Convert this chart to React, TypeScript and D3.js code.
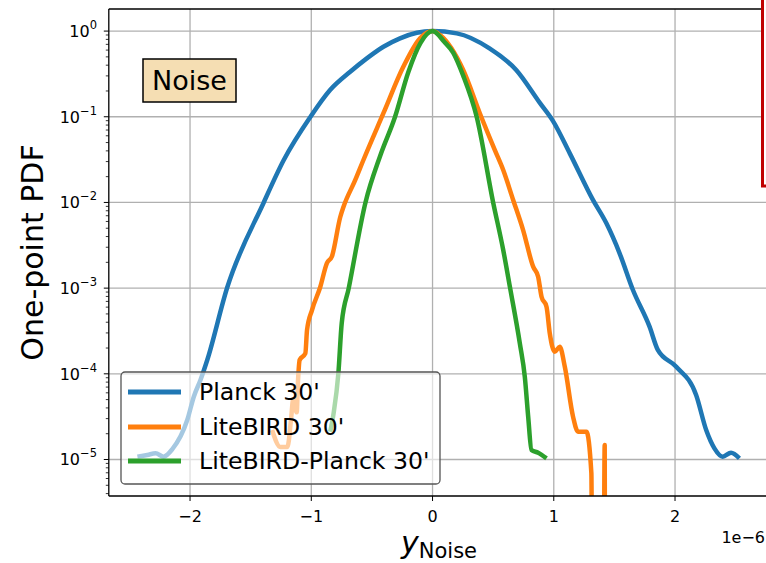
import React from 'react';
import * as d3 from 'd3';

// x values in units of 1e-6 (axis offset "1e-6"), y = one-point PDF (normalised to peak)
const planckX = [-2.434, -2.352, -2.284, -2.218, -2.146, -2.023, -1.969, -1.914, -1.858, -1.694, -1.393, -1.228, -1.008, -0.845, -0.679, -0.542, -0.405, -0.268, -0.13, 0, 0.2, 0.47, 0.69, 0.885, 0.994, 1.132, 1.323, 1.434, 1.543, 1.653, 1.79, 1.858, 2.01, 2.174, 2.257, 2.325, 2.393, 2.462, 2.531];
const planckY = [1.08e-5, 1.13e-5, 1.18e-5, 1.08e-5, 1.32e-5, 2.89e-5, 5.41e-5, 8.47e-5, 1.45e-4, 1.01e-3, 9.93e-3, 3.11e-2, 9.93e-2, 0.205, 0.335, 0.48, 0.656, 0.822, 0.955, 1, 0.94, 0.628, 0.351, 0.145, 0.089, 0.0374, 0.0107, 5.7e-3, 2.55e-3, 9.51e-4, 3.55e-4, 1.9e-4, 1.21e-4, 5.66e-5, 2.21e-5, 1.35e-5, 1.08e-5, 1.2e-5, 1.03e-5];

const litebirdX = [-1.323, -1.255, -1.197, -1.165, -1.15, -1.12, -1.11, -1.096, -1.049, -1.035, -0.994, -0.926, -0.871, -0.83, -0.761, -0.734, -0.638, -0.57, -0.405, -0.24, -0.103, 0, 0.062, 0.253, 0.39, 0.514, 0.583, 0.665, 0.747, 0.83, 0.871, 0.899, 0.94, 0.967, 1.008, 1.049, 1.091, 1.159, 1.2, 1.269, 1.31, 1.35, 1.38, 1.42, 1.46];
const litebirdY = [2.21e-5, 1.4e-5, 1.4e-5, 3.16e-5, 5.01e-5, 3.55e-5, 7.94e-5, 1.45e-4, 1.73e-4, 3.24e-4, 5.55e-4, 1.03e-3, 1.96e-3, 2.34e-3, 6.76e-3, 8.91e-3, 0.0182, 0.0313, 0.11, 0.385, 0.822, 1, 0.897, 0.351, 0.11, 0.0408, 0.0239, 0.0107, 4.76e-3, 1.78e-3, 1.36e-3, 7.94e-4, 6.07e-4, 2.97e-4, 1.81e-4, 2.07e-4, 1.21e-4, 3.16e-5, 2.11e-5, 2.11e-5, 6.92e-6, 0, 0, 1.48e-5, 0];

const diffX = [-0.844, -0.816, -0.777, -0.749, -0.691, -0.553, -0.43, -0.309, -0.2, -0.1, 0, 0.1, 0.17, 0.253, 0.364, 0.5, 0.583, 0.64, 0.72, 0.761, 0.789, 0.816, 0.871, 0.94];
const diffY = [2.11e-5, 3.46e-5, 1.0e-4, 3.89e-4, 1.0e-3, 1.0e-2, 0.0355, 0.1, 0.331, 0.724, 1, 0.74, 0.562, 0.302, 0.1, 0.01, 2.79e-3, 1.0e-3, 2.27e-4, 9.25e-5, 3.16e-5, 1.29e-5, 1.2e-5, 1.03e-5];

const seriesNames = ["Planck 30'", "LiteBIRD 30'", "LiteBIRD-Planck 30'"];
const seriesColors = ['#1f77b4', '#ff7f0e', '#2ca02c'];
const xTicks = [-2, -1, 0, 1, 2];
const yTickExps = [0, -1, -2, -3, -4, -5];

const FONT = 'DejaVu Sans, Verdana, sans-serif';

export default function App() {
  const W = 766, H = 563;
  const left = 108.8, right = 769.6, top = 9, bottom = 496;
  const x = d3.scaleLinear().domain([-2.67, 2.78]).range([left, right]);
  const y = d3.scaleLog().domain([1.81, Math.pow(10, -5.426)]).range([top, bottom]);
  const FLOOR = 1e-30;

  const line = d3.line<[number, number]>()
    .x(d => x(d[0]))
    .y(d => y(Math.max(d[1], FLOOR)))
    .curve(d3.curveMonotoneX);

  const series = [
    planckX.map((v, i) => [v, planckY[i]] as [number, number]),
    litebirdX.map((v, i) => [v, litebirdY[i]] as [number, number]),
    diffX.map((v, i) => [v, diffY[i]] as [number, number]),
  ];

  const minorTicks: number[] = [];
  for (let k = -6; k <= 0; k++) {
    for (let m = 2; m <= 9; m++) {
      const v = m * Math.pow(10, k);
      if (v < 1.81 && v > Math.pow(10, -5.426)) minorTicks.push(v);
    }
  }

  const legendRows = [392, 427, 461];

  return (
    <svg width={W} height={H} style={{ position: 'absolute', left: 0, top: 0, background: '#fff' }} fontFamily={FONT}>
      <defs>
        <clipPath id="plotClip">
          <rect x={left} y={top} width={right - left} height={bottom - top} />
        </clipPath>
      </defs>
      <rect x={0} y={0} width={W} height={H} fill="#fff" />
      {/* grid */}
      <g stroke="#b0b0b0" strokeWidth={1.3}>
        {xTicks.map(t => (
          <line key={'gx' + t} x1={x(t)} x2={x(t)} y1={top} y2={bottom} />
        ))}
        {yTickExps.map(e => (
          <line key={'gy' + e} x1={left} x2={right} y1={y(Math.pow(10, e))} y2={y(Math.pow(10, e))} />
        ))}
      </g>
      {/* curves */}
      <g clipPath="url(#plotClip)" fill="none" strokeWidth={4.5} strokeLinejoin="round" strokeLinecap="butt">
        {series.map((s, i) => (
          <path key={i} d={line(s) || ''} stroke={seriesColors[i]} />
        ))}
      </g>
      {/* spines */}
      <g stroke="#000" strokeWidth={1.3}>
        <line x1={left} x2={left} y1={top} y2={bottom} />
        <line x1={left} x2={right} y1={bottom} y2={bottom} />
        <line x1={left} x2={right} y1={top} y2={top} />
      </g>
      {/* ticks */}
      <g stroke="#000" strokeWidth={1}>
        {yTickExps.map(e => (
          <line key={'ty' + e} x1={left - 5} x2={left} y1={y(Math.pow(10, e))} y2={y(Math.pow(10, e))} />
        ))}
        {minorTicks.map((v, i) => (
          <line key={'my' + i} x1={left - 3} x2={left} y1={y(v)} y2={y(v)} strokeWidth={0.8} />
        ))}
        {xTicks.map(t => (
          <line key={'tx' + t} x1={x(t)} x2={x(t)} y1={bottom} y2={bottom + 5} />
        ))}
      </g>
      {/* tick labels */}
      <g fill="#000">
        {yTickExps.map(e => (
          <text key={'ly' + e} x={97} y={y(Math.pow(10, e)) + 6} textAnchor="end" fontSize={16}>
            10<tspan dy={-8} fontSize={11.5}>{e === 0 ? '0' : '\u2212' + Math.abs(e)}</tspan>
          </text>
        ))}
        {xTicks.map(t => (
          <text key={'lx' + t} x={x(t)} y={522} textAnchor="middle" fontSize={16}>
            {t < 0 ? '\u2212' + Math.abs(t) : String(t)}
          </text>
        ))}
        <text x={765} y={543} textAnchor="end" fontSize={16}>1e{'\u2212'}6</text>
      </g>
      {/* axis labels */}
      <text transform={`translate(43, ${(top + bottom) / 2}) rotate(-90)`} textAnchor="middle" fontSize={30}>One-point PDF</text>
      <text x={439} y={553} textAnchor="middle" fontSize={30}>
        <tspan fontStyle="italic">y</tspan>
        <tspan fontSize={21} dy={5}>Noise</tspan>
      </text>
      {/* Noise box */}
      <rect x={143} y={59} width={93} height={43} fill="#f5deb3" stroke="#000" strokeWidth={1.5} />
      <text x={189.5} y={90} textAnchor="middle" fontSize={27}>Noise</text>
      {/* legend */}
      <rect x={121} y={372} width={319} height={112} rx={4} ry={4} fill="#fff" fillOpacity={0.6} stroke="#555" strokeWidth={1.3} />
      {seriesNames.map((n, i) => (
        <g key={n}>
          <line x1={128} x2={181} y1={legendRows[i]} y2={legendRows[i]} stroke={seriesColors[i]} strokeWidth={5} />
          <text x={199} y={legendRows[i] + 8} fontSize={23.6}>{n}</text>
        </g>
      ))}
      {/* adjacent panel edge */}
      <rect x={762.5} y={-10} width={30} height={196} fill="#fff" stroke="#c00000" strokeWidth={3} />
    </svg>
  );
}
